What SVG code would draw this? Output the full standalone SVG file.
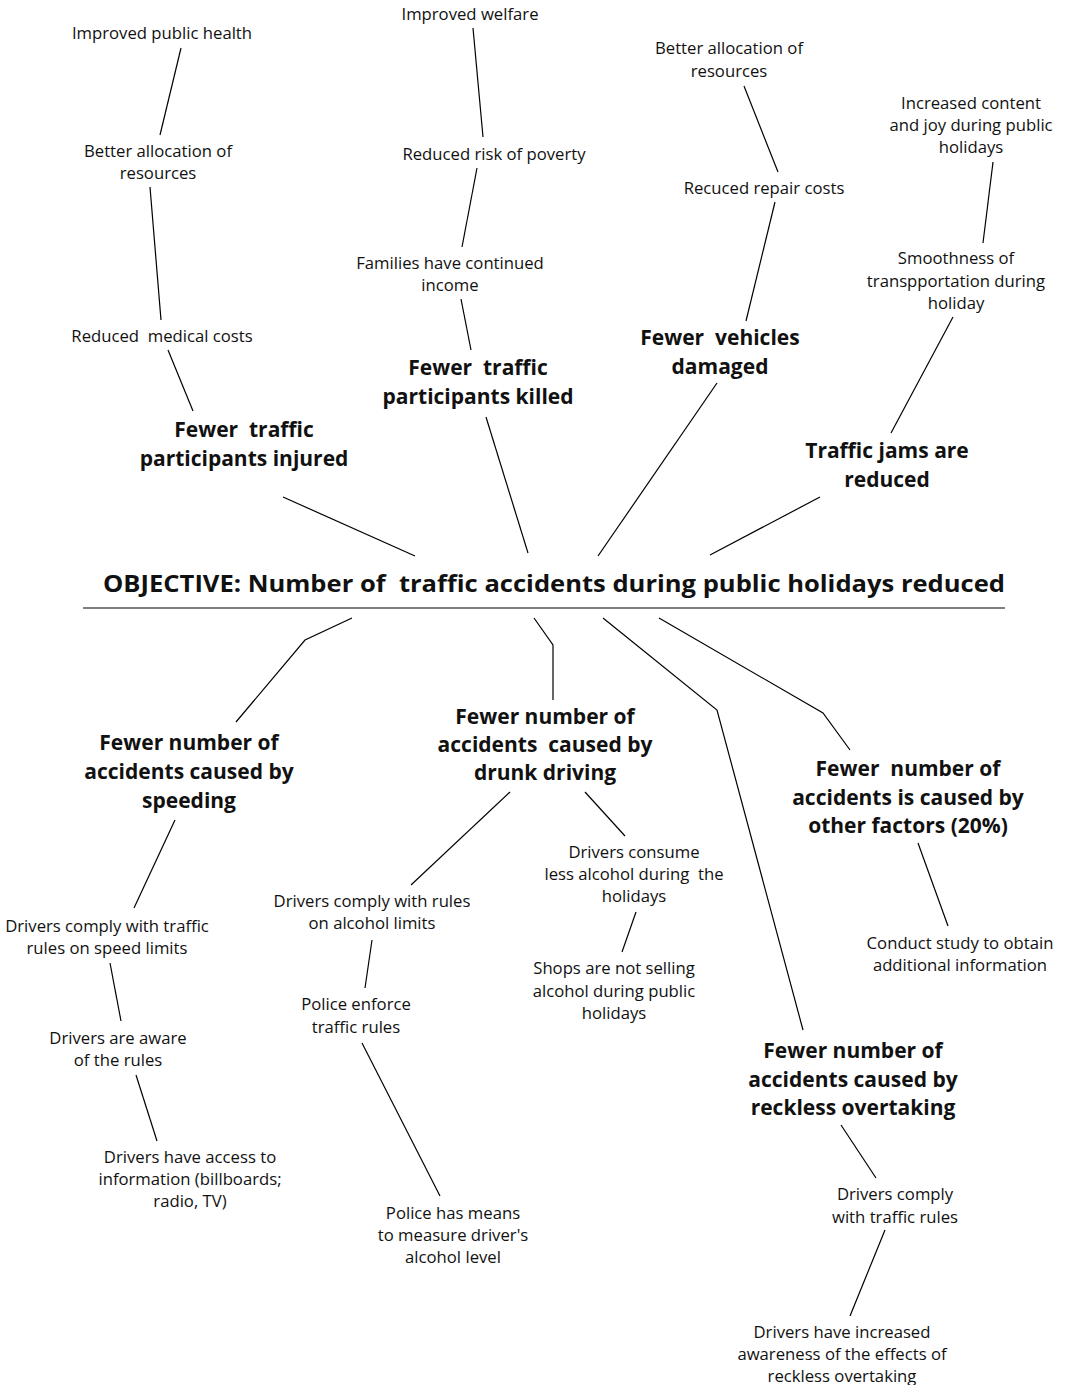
<svg xmlns="http://www.w3.org/2000/svg" width="1076" height="1385" viewBox="0 0 1076 1385">
  <style>
    text { font-family: "Open Sans", "Noto Sans", "Liberation Sans", sans-serif; fill: #111; text-anchor: middle; white-space: pre; }
    .t { font-size: 16.7px; }
    .b { font-size: 21px; font-weight: bold; }
    .o { font-size: 24px; font-weight: bold; }
    .c line, .c polyline { stroke: #000; stroke-width: 1.2; fill: none; }
  </style>
  <rect width="1076" height="1385" fill="#fff"/>

  <!-- connectors -->
  <g id="connectors" class="c">
    <!-- injured branch -->
    <line x1="181" y1="48" x2="160" y2="135"/>
    <line x1="150" y1="187" x2="161" y2="320"/>
    <line x1="168" y1="350" x2="193" y2="411"/>
    <line x1="283" y1="497" x2="415" y2="556"/>
    <!-- killed branch -->
    <line x1="473" y1="28" x2="483" y2="137"/>
    <line x1="477" y1="168" x2="462" y2="247"/>
    <line x1="461" y1="299" x2="471" y2="350"/>
    <line x1="486" y1="417" x2="528" y2="553"/>
    <!-- vehicles branch -->
    <line x1="744" y1="86" x2="778" y2="172"/>
    <line x1="775" y1="202" x2="746" y2="321"/>
    <line x1="717" y1="383" x2="598" y2="556"/>
    <!-- traffic jams branch -->
    <line x1="993" y1="162" x2="983" y2="243"/>
    <line x1="953" y1="317" x2="891" y2="433"/>
    <line x1="820" y1="497" x2="710" y2="555"/>
    <!-- objective underline -->
    <line x1="83" y1="608" x2="1005" y2="608"/>
    <!-- from objective to lower branches -->
    <polyline points="352,618 305,640 236,722"/>
    <polyline points="534,618 553,645 553,700"/>
    <polyline points="603,618 717,710 803,1030"/>
    <polyline points="659,618 823,713 850,750"/>
    <!-- speeding branch -->
    <line x1="175" y1="820" x2="134" y2="908"/>
    <line x1="110" y1="963" x2="121" y2="1021"/>
    <line x1="136" y1="1075" x2="157" y2="1141"/>
    <!-- drunk driving branch -->
    <line x1="510" y1="792" x2="411" y2="885"/>
    <line x1="372" y1="940" x2="365" y2="988"/>
    <line x1="362" y1="1043" x2="440" y2="1196"/>
    <line x1="585" y1="792" x2="625" y2="836"/>
    <line x1="636" y1="912" x2="622" y2="952"/>
    <!-- other factors branch -->
    <line x1="918" y1="843" x2="948" y2="926"/>
    <!-- reckless overtaking branch -->
    <line x1="841" y1="1125" x2="876" y2="1178"/>
    <line x1="885" y1="1230" x2="850" y2="1316"/>
  </g>

  <!-- upper tree: effects -->
  <g id="improved-public-health"><text class="t" x="162" y="39">Improved public health</text></g>
  <g id="better-allocation-1"><text class="t" x="158" y="157">Better allocation of</text><text class="t" x="158" y="179">resources</text></g>
  <g id="reduced-medical-costs"><text class="t" x="162" y="342">Reduced  medical costs</text></g>
  <g id="fewer-injured"><text class="b" x="244" y="437">Fewer  traffic</text><text class="b" x="244" y="466">participants injured</text></g>

  <g id="improved-welfare"><text class="t" x="470" y="20">Improved welfare</text></g>
  <g id="reduced-poverty"><text class="t" x="494" y="160">Reduced risk of poverty</text></g>
  <g id="continued-income"><text class="t" x="450" y="269">Families have continued</text><text class="t" x="450" y="291">income</text></g>
  <g id="fewer-killed"><text class="b" x="478" y="375">Fewer  traffic</text><text class="b" x="478" y="404">participants killed</text></g>

  <g id="better-allocation-2"><text class="t" x="729" y="54">Better allocation of</text><text class="t" x="729" y="77">resources</text></g>
  <g id="reduced-repair-costs"><text class="t" x="764" y="194">Recuced repair costs</text></g>
  <g id="fewer-vehicles"><text class="b" x="720" y="345">Fewer  vehicles</text><text class="b" x="720" y="374">damaged</text></g>

  <g id="increased-joy"><text class="t" x="971" y="109">Increased content</text><text class="t" x="971" y="131">and joy during public</text><text class="t" x="971" y="153">holidays</text></g>
  <g id="smooth-transport"><text class="t" x="956" y="264">Smoothness of</text><text class="t" x="956" y="287">transpportation during</text><text class="t" x="956" y="309">holiday</text></g>
  <g id="traffic-jams"><text class="b" x="887" y="458">Traffic jams are</text><text class="b" x="887" y="487">reduced</text></g>

  <!-- objective -->
  <g id="objective"><text class="o" x="554" y="592" textLength="902" lengthAdjust="spacingAndGlyphs">OBJECTIVE: Number of  traffic accidents during public holidays reduced</text></g>

  <!-- lower tree: means -->
  <g id="speeding"><text class="b" x="189" y="750">Fewer number of</text><text class="b" x="189" y="779">accidents caused by</text><text class="b" x="189" y="808">speeding</text></g>
  <g id="comply-speed"><text class="t" x="107" y="932">Drivers comply with traffic</text><text class="t" x="107" y="954">rules on speed limits</text></g>
  <g id="aware-rules"><text class="t" x="118" y="1044">Drivers are aware</text><text class="t" x="118" y="1066">of the rules</text></g>
  <g id="access-info"><text class="t" x="190" y="1163">Drivers have access to</text><text class="t" x="190" y="1185">information (billboards;</text><text class="t" x="190" y="1207">radio, TV)</text></g>

  <g id="drunk-driving"><text class="b" x="545" y="724">Fewer number of</text><text class="b" x="545" y="752">accidents  caused by</text><text class="b" x="545" y="780">drunk driving</text></g>
  <g id="comply-alcohol"><text class="t" x="372" y="907">Drivers comply with rules</text><text class="t" x="372" y="929">on alcohol limits</text></g>
  <g id="police-enforce"><text class="t" x="356" y="1010">Police enforce</text><text class="t" x="356" y="1033">traffic rules</text></g>
  <g id="police-means"><text class="t" x="453" y="1219">Police has means</text><text class="t" x="453" y="1241">to measure driver's</text><text class="t" x="453" y="1263">alcohol level</text></g>
  <g id="consume-less"><text class="t" x="634" y="858">Drivers consume</text><text class="t" x="634" y="880">less alcohol during  the</text><text class="t" x="634" y="902">holidays</text></g>
  <g id="shops-not-selling"><text class="t" x="614" y="974">Shops are not selling</text><text class="t" x="614" y="997">alcohol during public</text><text class="t" x="614" y="1019">holidays</text></g>

  <g id="other-factors"><text class="b" x="908" y="776">Fewer  number of</text><text class="b" x="908" y="805">accidents is caused by</text><text class="b" x="908" y="833">other factors (20%)</text></g>
  <g id="conduct-study"><text class="t" x="960" y="949">Conduct study to obtain</text><text class="t" x="960" y="971">additional information</text></g>

  <g id="reckless-overtaking"><text class="b" x="853" y="1058">Fewer number of</text><text class="b" x="853" y="1087">accidents caused by</text><text class="b" x="853" y="1115">reckless overtaking</text></g>
  <g id="comply-traffic"><text class="t" x="895" y="1200">Drivers comply</text><text class="t" x="895" y="1223">with traffic rules</text></g>
  <g id="awareness-effects"><text class="t" x="842" y="1338">Drivers have increased</text><text class="t" x="842" y="1360">awareness of the effects of</text><text class="t" x="842" y="1382">reckless overtaking</text></g>
</svg>
